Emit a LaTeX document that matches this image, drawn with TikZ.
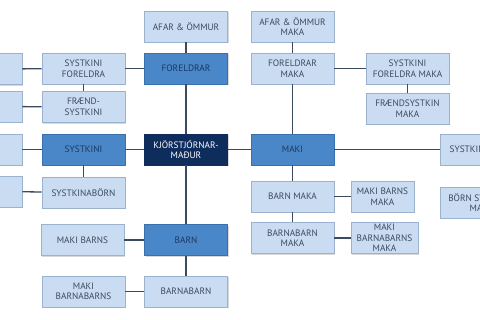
\documentclass[tikz,border=0pt]{standalone}
\usepackage{fontspec}
\setmainfont{PT Sans}
\usetikzlibrary{shadows}
\definecolor{lightfill}{HTML}{C9DCF2}
\definecolor{lightborder}{HTML}{9BB2CE}
\definecolor{midfill}{HTML}{4A87C9}
\definecolor{midborder}{HTML}{3A70AC}
\definecolor{darkfill}{HTML}{0E2D5D}
\definecolor{txtgray}{HTML}{3C4A5E}
\definecolor{txtnavy}{HTML}{1B3860}
\definecolor{linecol}{HTML}{3A4A5F}
\tikzset{
  box/.style={rectangle, draw=lightborder, fill=lightfill, line width=0.6pt,
    minimum width=83pt, minimum height=31pt, inner sep=1pt, align=center,
    text=txtgray, font=\fontsize{9.3}{10.5}\selectfont,
    drop shadow={shadow xshift=1.2pt, shadow yshift=-1.2pt, opacity=0.25, fill=black!60}},
  midbox/.style={box, draw=midborder, fill=midfill, text=txtnavy},
  darkbox/.style={box, draw=darkfill, fill=darkfill, text=white},
  conn/.style={draw=linecol, line width=1.3pt}
}
\begin{document}
\begin{tikzpicture}[x=1pt,y=-1pt]
\useasboundingbox (0,0) rectangle (480,320);
\clip (0,0) rectangle (480,320);
\fill[white] (0,0) rectangle (480,320);
% left column (partial boxes)
\node[box, minimum width=42pt] (L1) at (1,69) {};
\node[box, minimum width=42pt] (L2) at (1,106.5) {};
\node[box, minimum width=42pt] (L3) at (1,149.5) {};
\node[box, minimum width=42pt] (L4) at (1,191.5) {};
% second column
\node[box] (sysfor) at (83.5,68.5) {SYSTKINI\\FORELDRA};
\node[box] (fraend) at (83.5,107) {FRÆND-\\SYSTKINI};
\node[midbox] (systkini) at (83.5,149.5) {SYSTKINI};
\node[box] (sysborn) at (83.5,192.5) {SYSTKINABÖRN};
\node[box] (makibarns) at (82.5,240) {MAKI BARNS};
\node[box] (makibb) at (83.5,291.5) {MAKI\\BARNABARNS};
% centre column
\node[box] (afar) at (186,26.5) {AFAR \& ÖMMUR};
\node[midbox] (foreldrar) at (186,68.5) {FORELDRAR};
\node[darkbox] (kjor) at (186,149.5) {KJÖRSTJÓRNAR-\\MAÐUR};
\node[midbox] (barn) at (186,240) {BARN};
\node[box] (barnabarn) at (186,291.5) {BARNABARN};
% maki column
\node[box] (afarmaka) at (292.5,26.5) {AFAR \& ÖMMUR\\MAKA};
\node[box] (formaka) at (292.5,68.5) {FORELDRAR\\MAKA};
\node[midbox] (maki) at (292.5,149.5) {MAKI};
\node[box] (barnmaka) at (292.5,196.5) {BARN MAKA};
\node[box] (bbmaka) at (292.5,238) {BARNABARN\\MAKA};
% right columns
\node[box] (sysformaka) at (407.5,68.5) {SYSTKINI\\FORELDRA MAKA};
\node[box] (fraendmaka) at (407.5,108.5) {FRÆNDSYSTKIN\\MAKA};
\node[box, minimum width=63pt] (makibarnsmaka) at (382.5,196.5) {MAKI BARNS\\MAKA};
\node[box, minimum width=67pt] (makibbmaka) at (384.5,238) {MAKI\\BARNABARNS\\MAKA};
\node[box, minimum width=83pt] (sysmaka) at (481.5,149.5) {SYSTKINI MAKA};
\node[box, minimum width=83pt] (bornmaka) at (481.5,202.5) {BÖRN SYSTKINA\\MAKA};
% connectors
\draw[conn] (L1) -- (sysfor);
\draw[conn] (L2) -- (fraend);
\draw[conn] (L3) -- (systkini);
\draw[conn] (L4) -- (sysborn);
\draw[conn] (sysfor) -- (fraend);
\draw[conn] (sysfor) -- (foreldrar);
\draw[conn] (systkini) -- (sysborn);
\draw[conn] (systkini) -- (kjor);
\draw[conn] (makibarns) -- (barn);
\draw[conn] (makibb) -- (barnabarn);
\draw[conn] (afar) -- (foreldrar);
\draw[conn] (foreldrar) -- (kjor);
\draw[conn] (kjor) -- (barn);
\draw[conn] (barn) -- (barnabarn);
\draw[conn] (kjor) -- (maki);
\draw[conn] (afarmaka) -- (formaka);
\draw[conn] (formaka) -- (maki);
\draw[conn] (formaka) -- (sysformaka);
\draw[conn] (sysformaka) -- (fraendmaka);
\draw[conn] (maki) -- (sysmaka);
\draw[conn] (maki) -- (barnmaka);
\draw[conn] (barnmaka) -- (bbmaka);
\draw[conn] (barnmaka) -- (makibarnsmaka);
\draw[conn] (bbmaka) -- (makibbmaka);
\end{tikzpicture}
\end{document}
